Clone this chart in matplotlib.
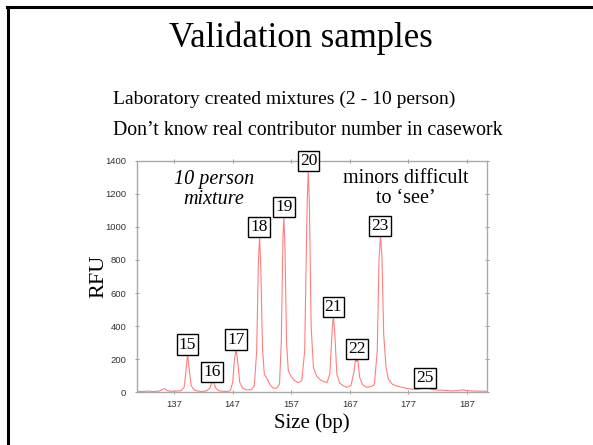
import matplotlib
matplotlib.use("Agg")
import matplotlib.pyplot as plt
from matplotlib.lines import Line2D

# electropherogram trace (size in bp, height in RFU)
trace_size = [130.6, 131.5, 132.5, 133.5, 134.5, 135.0, 135.4, 135.8, 136.5, 137.5,
              138.2, 138.7, 139.0, 139.3, 139.6, 139.9, 140.4, 141.0, 141.8, 142.5,
              143.1, 143.5, 143.8, 144.1, 144.6, 145.3, 146.0, 146.6, 147.0, 147.3,
              147.6, 147.9, 148.2, 148.7, 149.4, 150.2, 150.7, 151.1, 151.4, 151.6,
              151.8, 152.1, 152.4, 152.9, 153.4, 153.9, 154.5, 155.0, 155.3, 155.6,
              155.75, 155.95, 156.2, 156.5, 157.0, 157.6, 158.2, 158.8, 159.3, 159.7,
              159.9, 160.1, 160.4, 160.8, 161.3, 162.0, 162.6, 163.1, 163.6, 164.0,
              164.2, 164.45, 164.8, 165.3, 165.9, 166.5, 167.2, 167.7, 168.0, 168.2,
              168.35, 168.7, 169.2, 169.9, 170.6, 171.2, 171.7, 172.0, 172.25, 172.5,
              172.8, 173.2, 173.6, 174.3, 175.0, 176.0, 177.0, 178.0, 179.0, 179.8,
              180.4, 181.2, 182.2, 183.2, 184.4, 185.5, 186.2, 186.8, 187.8, 189.0,
              190.4]
trace_rfu = [6, 5, 7, 4, 8, 18, 22, 10, 6, 8,
             10, 30, 120, 232, 130, 40, 15, 8, 5, 8,
             25, 66, 55, 25, 10, 6, 5, 10, 60, 200,
             262, 170, 60, 25, 14, 16, 40, 250, 800, 940,
             760, 260, 110, 80, 45, 26, 24, 50, 300, 950,
             1061, 850, 300, 130, 95, 70, 58, 70, 250, 1100,
             1340, 1150, 400, 150, 100, 74, 65, 58, 110, 380,
             461, 350, 110, 55, 40, 30, 40, 120, 200, 185,
             205, 90, 45, 30, 35, 45, 250, 800, 950, 820,
             350, 150, 80, 48, 38, 30, 22, 18, 20, 30,
             25, 16, 13, 12, 8, 10, 15, 12, 8, 7,
             6]

# allele calls
alleles = ["15", "16", "17", "18", "19", "20", "21", "22", "23", "25"]
allele_size = [139.3, 143.5, 147.6, 151.5, 155.8, 159.95, 164.2, 168.2, 172.2, 179.9]
allele_rfu = [232, 66, 262, 940, 1061, 1340, 461, 205, 950, 30]

x_ticks = [137, 147, 157, 167, 177, 187]
y_ticks = [0, 200, 400, 600, 800, 1000, 1200, 1400]

serif = "Liberation Serif"

fig = plt.figure(figsize=(5.93, 4.45), dpi=100)

# slide frame (top and left edges)
fig.add_artist(Line2D([7 / 593, 1], [1 - 6.7 / 445] * 2, color="black", lw=2.2,
                      transform=fig.transFigure))
fig.add_artist(Line2D([7.5 / 593] * 2, [0, 1 - 6.7 / 445], color="black", lw=2.2,
                      transform=fig.transFigure))

fig.text(0.507, 1 - 38 / 445, "Validation samples", family=serif, fontsize=25,
         ha="center", va="center")
fig.text(0.479, 1 - 99 / 445, "Laboratory created mixtures (2 - 10 person)",
         family=serif, fontsize=14, ha="center", va="center")
fig.text(0.519, 1 - 131 / 445, "Don\u2019t know real contributor number in casework",
         family=serif, fontsize=14.3, ha="center", va="center")

ax = fig.add_axes([136.7 / 593, 1 - 392.3 / 445, 350 / 593, 231.6 / 445])
ax.plot(trace_size, trace_rfu, color="#ff7f7f", lw=0.8)

for lab, xs, ys in zip(alleles, allele_size, allele_rfu):
    ax.annotate(lab, (xs, ys), xytext=(0, 1), textcoords="offset points",
                ha="center", va="bottom", family=serif, fontsize=12.5,
                bbox=dict(boxstyle="square,pad=0.12", fc="white", ec="black", lw=1))

ax.text(0.22, 0.875, "10 person\nmixture", transform=ax.transAxes, family=serif,
        style="italic", fontsize=14.5, ha="center", va="center", linespacing=1.1)
ax.text(0.768, 0.88, "minors difficult\nto \u2018see\u2019", transform=ax.transAxes,
        family=serif, fontsize=14.5, ha="center", va="center", linespacing=1.1)

ax.set_xlim(130.6, 190.4)
ax.set_ylim(0, 1400)
ax.set_xticks(x_ticks)
ax.set_yticks(y_ticks)
ax.tick_params(axis="both", direction="inout", length=3, width=0.6, color="#888888",
               labelsize=6.8, labelcolor="#333333", top=True, right=True)
ax.tick_params(axis="y", pad=6)
ax.tick_params(axis="x", pad=4)
for lab in ax.get_xticklabels() + ax.get_yticklabels():
    lab.set_family("Liberation Sans")
for sp in ax.spines.values():
    sp.set_color("#aaaaaa")
    sp.set_linewidth(1.0)

ax.set_ylabel("RFU", family=serif, fontsize=16, labelpad=-2)
ax.set_xlabel("Size (bp)", family=serif, fontsize=15, labelpad=3)

fig.savefig("out.png", dpi=100)
